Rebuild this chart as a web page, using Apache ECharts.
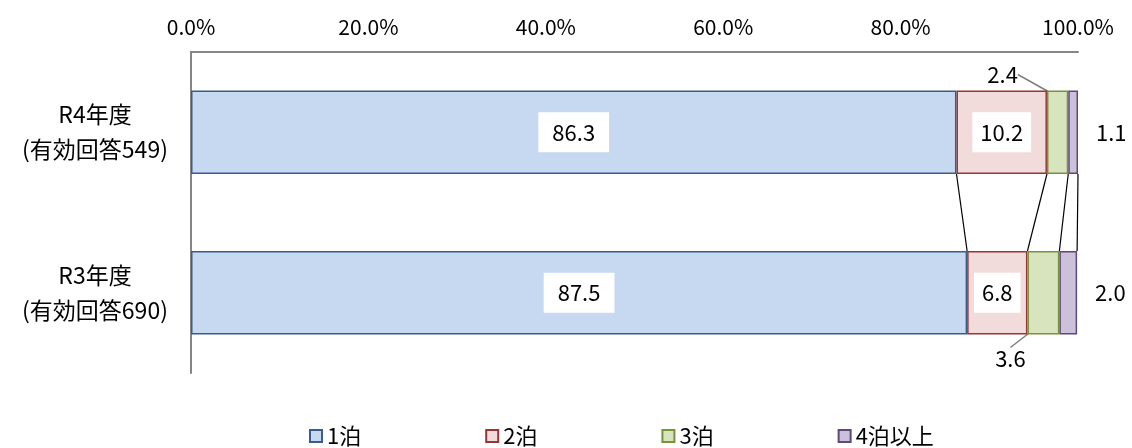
<!DOCTYPE html>
<html>
<head>
<meta charset="utf-8">
<script src="https://cdn.jsdelivr.net/npm/echarts@6/dist/echarts.min.js"></script>
<style>
  html, body { margin: 0; padding: 0; background: #fff; }
  #chart { width: 1132px; height: 448px; }
</style>
</head>
<body>
<div id="chart"></div>
<script>
// data
const categories = ['R4年度\n(有効回答549)', 'R3年度\n(有効回答690)'];
const seriesNames = ['1泊', '2泊', '3泊', '4泊以上'];
const oneNight = [86.3, 87.5];
const twoNights = [10.2, 6.8];
const threeNights = [2.4, 3.6];
const fourPlus = [1.1, 2.0];
const xTicks = [0, 20, 40, 60, 80, 100];

const FONT = '"Noto Sans CJK JP", "Noto Sans", sans-serif';
const BAR_RATIO = 0.52;

const colors = ['#C6D9F1', '#F2DCDB', '#D7E4BD', '#CCC1DA'];
const borders = ['#385D8A', '#953735', '#77933C', '#5F497A'];

const allValues = [oneNight, twoNights, threeNights, fourPlus];

// cumulative boundaries for the series lines between the two bars
const seriesLineData = [];
let cumA = 0, cumB = 0;
allValues.forEach((vals) => {
  cumA += vals[0];
  cumB += vals[1];
  seriesLineData.push([Math.min(cumA, 100), Math.min(cumB, 100)]);
});

const chart = echarts.init(document.getElementById('chart'));

function barSeries(i, label, extra) {
  return Object.assign({
    name: seriesNames[i],
    type: 'bar',
    stack: 'total',
    barCategoryGap: '48%',
    itemStyle: { color: colors[i], borderColor: borders[i], borderWidth: 1.5 },
    label: Object.assign({
      show: true,
      fontFamily: FONT,
      fontSize: 22,
      color: '#000',
      formatter: (p) => p.value.toFixed(1),
    }, label),
    data: allValues[i],
  }, extra || {});
}

chart.setOption({
  animation: false,
  textStyle: { fontFamily: FONT },
  grid: { left: 191, right: 54, top: 52, bottom: 75 },
  legend: {
    data: seriesNames,
    left: 304,
    top: 420,
    itemWidth: 12,
    itemHeight: 12,
    itemGap: 124,
    icon: 'rect',
    textStyle: { fontFamily: FONT, fontSize: 22, color: '#000' },
  },
  xAxis: {
    type: 'value',
    position: 'top',
    min: xTicks[0],
    max: xTicks[xTicks.length - 1],
    interval: xTicks[1] - xTicks[0],
    axisLine: { show: true, lineStyle: { color: '#868686', width: 2 } },
    axisTick: { show: false },
    splitLine: { show: false },
    axisLabel: {
      margin: 14,
      fontFamily: FONT,
      fontSize: 21,
      color: '#000',
      formatter: (v) => v.toFixed(1) + '%',
    },
  },
  yAxis: {
    type: 'category',
    inverse: true,
    data: categories,
    axisLine: { show: true, lineStyle: { color: '#868686', width: 2 } },
    axisTick: { show: false },
    axisLabel: {
      margin: 96,
      align: 'center',
      fontFamily: FONT,
      fontSize: 23,
      lineHeight: 35,
      color: '#000',
    },
  },
  series: [
    barSeries(0, {
      position: 'inside',
      backgroundColor: '#fff',
      padding: [9, 14],
    }),
    barSeries(1, {
      position: 'inside',
      backgroundColor: '#fff',
      padding: [9, 8],
    }),
    barSeries(2, {}, {
      data: [
        { value: threeNights[0], label: { position: 'top' } },
        { value: threeNights[1], label: { position: 'bottom' } },
      ],
      labelLayout: (params) => (params.dataIndex === 0 ? { dx: -55, dy: 0 } : { dx: -33, dy: 8 }),
      labelLine: { show: true, lineStyle: { color: '#7F7F7F', width: 1.5 } },
    }),
    barSeries(3, { position: 'right', distance: 18 }),
    {
      type: 'custom',
      silent: true,
      z: 1,
      data: seriesLineData,
      renderItem: (params, api) => {
        const p1 = api.coord([api.value(0), 0]);
        const p2 = api.coord([api.value(1), 1]);
        const half = api.size([0, 1])[1] * BAR_RATIO / 2;
        return {
          type: 'line',
          shape: { x1: p1[0], y1: p1[1] + half, x2: p2[0], y2: p2[1] - half },
          style: { stroke: '#000', lineWidth: 1.2 },
        };
      },
    },
  ],
});
</script>
</body>
</html>
